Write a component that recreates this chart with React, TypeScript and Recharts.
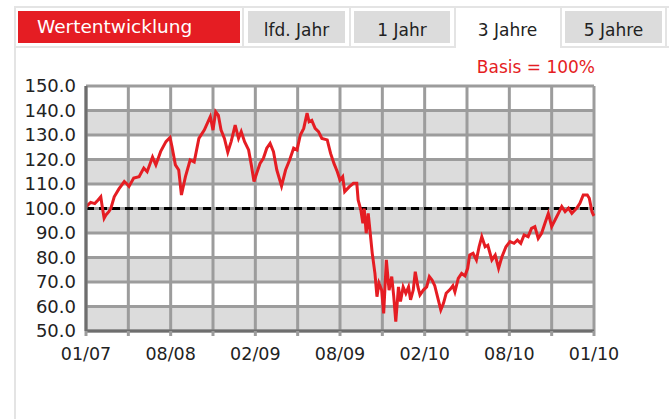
import React from 'react';
import { LineChart, Line, XAxis, YAxis, CartesianGrid, ReferenceLine } from 'recharts';

// trading-day index (0..756 over three years) and indexed value (Basis = 100%)
const days = [
  0, 3, 7, 13, 18, 22, 24, 27, 30, 34, 37, 42, 49, 57, 61, 64, 71, 79, 86, 91,
  99, 104, 111, 119, 125, 128, 133, 138, 142, 148, 155, 161, 168, 176, 185, 189, 193, 197, 201, 206,
  211, 216, 222, 227, 231, 236, 242, 246, 250, 254, 259, 264, 269, 274, 279, 284, 291, 297, 303, 309,
  314, 319, 324, 329, 332, 336, 341, 346, 351, 359, 364, 369, 374, 378, 382, 385, 392, 398, 403, 405,
  409, 412, 414, 417, 420, 423, 426, 430, 433, 436, 440, 443, 447, 451, 455, 458, 461, 465, 468, 472,
  476, 480, 483, 487, 490, 494, 497, 502, 507, 511, 515, 519, 524, 528, 532, 536, 542, 546, 549, 554,
  559, 564, 568, 571, 576, 581, 585, 589, 594, 598, 604, 609, 614, 619, 625, 631, 637, 642, 647, 652,
  658, 663, 668, 673, 678, 683, 688, 693, 698, 703, 708, 713, 718, 723, 730, 735, 740, 746, 749, 753,
  755, 756,
];
const values = [
  100.5, 101.5, 102.5, 102, 103.5, 104.8, 101, 96, 97.5, 98.7, 100, 104.8, 108, 111, 110, 109, 112.4, 113, 116.5, 115,
  121, 117.8, 123.2, 127.3, 129, 125.2, 117.8, 115.7, 105.5, 113, 119.8, 119, 128.6, 132, 137.5, 132, 139.5, 138, 132, 128.6,
  123, 127.3, 134, 128.6, 131.4, 127.3, 123.9, 117.8, 111, 114.4, 118.4, 120.5, 124.6, 126.6, 123.2, 115.7, 109.2, 115.7, 119.8, 124.6,
  123.9, 130, 132.7, 138.9, 135.4, 136, 132.7, 131.4, 128.6, 128, 122.5, 118.4, 115, 111.6, 113, 106.9, 108.9, 110.3, 110.3, 103.5,
  99.4, 94, 100, 89.9, 98, 89.9, 81.7, 73.5, 64, 69.5, 66.7, 57.2, 79, 66.7, 72.2, 64, 53.8, 68, 62, 68,
  65.4, 68, 62.7, 66.7, 74.2, 68, 64.7, 66.7, 68, 72.2, 70.8, 68.5, 63, 58.6, 61.3, 65.4, 67, 68.5, 66, 71.5,
  73.5, 72.5, 75.6, 81, 81.7, 79, 84.4, 88.5, 84.4, 85, 79, 81, 75.6, 80.3, 84.4, 86.5, 85.8, 87.1, 85.8, 89.2,
  88.5, 91.9, 92.6, 87.8, 89.9, 94, 98, 92.6, 95.3, 98, 100.8, 98.7, 100.1, 98, 100.1, 102.1, 105.5, 105.5, 104.2, 98.7,
  97.4, 97,
];

const xTicks = [0, 63, 126, 189, 252, 315, 378, 441, 504, 567, 630, 693, 756];
const xTickLabels = ['01/07', '', '08/08', '', '02/09', '', '08/09', '', '02/10', '', '08/10', '', '01/10'];
const yTicks = [50, 60, 70, 80, 90, 100, 110, 120, 130, 140, 150];
const baseline = 100;

const tabs = ['lfd. Jahr', '1 Jahr', '3 Jahre', '5 Jahre'];
const titleText = 'Wertentwicklung';
const basisText = 'Basis = 100%';

const data = days.map((d, i) => ({ day: d, value: values[i] }));

const FONT = '"DejaVu Sans", Verdana, sans-serif';
const RED = '#e51d23';
const BORDER = '#e4e4e4';

export default function App() {
  const tabBoxes = [
    { x: 248, w: 97, fill: '#dcdcdc' },
    { x: 354, w: 96, fill: '#dcdcdc' },
    { x: 458, w: 99, fill: 'none' },
    { x: 565, w: 97, fill: '#dcdcdc' },
  ];
  return (
    <div style={{ position: 'absolute', left: 0, top: 0, width: 669, height: 419, background: '#fff', fontFamily: FONT }}>
      <LineChart
        width={669}
        height={419}
        data={data}
        margin={{ top: 86, right: 75, bottom: 48, left: 6 }}
      >
        <CartesianGrid
          stroke="#9c9c9c"
          strokeWidth={3}
          horizontalFill={['#ffffff', '#dcdcdc']}
          fillOpacity={1}
        />
        <XAxis
          type="number"
          dataKey="day"
          domain={[0, 756]}
          ticks={xTicks}
          interval={0}
          tickFormatter={(v, i) => xTickLabels[i]}
          tickSize={5}
          tickMargin={12}
          height={40}
          tickLine={{ stroke: '#9c9c9c', strokeWidth: 3 }}
          axisLine={{ stroke: '#6e6e6e', strokeWidth: 3 }}
          tick={{ fill: '#222', fontSize: 17.5, fontFamily: FONT }}
        />
        <YAxis
          type="number"
          domain={[50, 150]}
          ticks={yTicks}
          interval={0}
          width={80}
          tickSize={0}
          tickMargin={10}
          tickFormatter={(v) => Number(v).toFixed(1)}
          tickLine={false}
          axisLine={{ stroke: '#6e6e6e', strokeWidth: 3 }}
          tick={{ fill: '#222', fontSize: 18, fontFamily: FONT }}
        />
        <ReferenceLine y={baseline} stroke="#000" strokeWidth={3} strokeDasharray="8 5" />
        <Line
          type="linear"
          dataKey="value"
          stroke={RED}
          strokeWidth={3}
          dot={false}
          isAnimationActive={false}
        />
      </LineChart>
      <svg width={669} height={419} style={{ position: 'absolute', left: 0, top: 0, pointerEvents: 'none' }}>
        <rect x={14} y={6} width={655} height={2} fill={BORDER} />
        <rect x={14} y={6} width={2} height={413} fill={BORDER} />
        <rect x={14} y={46} width={441} height={2} fill={BORDER} />
        <rect x={560} y={46} width={109} height={2} fill={BORDER} />
        {[242, 349, 454, 560, 665].map((x) => (
          <rect key={x} x={x} y={6} width={2} height={42} fill={BORDER} />
        ))}
        <rect x={18} y={11} width={222} height={32} fill={RED} />
        <text x={37} y={33} fill="#fff" fontSize={18.5} fontFamily={FONT}>{titleText}</text>
        {tabs.map((t, i) => (
          <g key={t}>
            {tabBoxes[i].fill !== 'none' && (
              <rect x={tabBoxes[i].x} y={11} width={tabBoxes[i].w} height={32} fill={tabBoxes[i].fill} />
            )}
            <text x={tabBoxes[i].x + tabBoxes[i].w / 2} y={36} textAnchor="middle" fill="#222" fontSize={17} fontFamily={FONT}>{t}</text>
          </g>
        ))}
        <text x={595} y={73} textAnchor="end" fill={RED} fontSize={17} fontFamily={FONT}>{basisText}</text>
      </svg>
    </div>
  );
}
